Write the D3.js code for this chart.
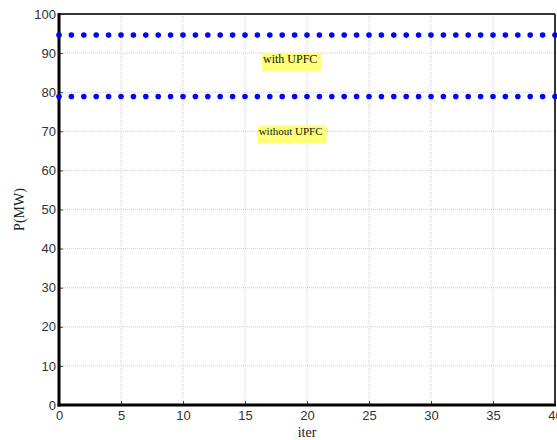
<!DOCTYPE html>
<html>
<head>
<meta charset="utf-8">
<script src="https://cdn.jsdelivr.net/npm/d3@7"></script>
<style>
  html, body { margin: 0; padding: 0; background: #fff; }
  svg { display: block; }
</style>
</head>
<body>
<svg id="chart" width="557" height="440"></svg>
<script>
// Power flow per iteration, with and without the UPFC device
const iterations = d3.range(0, 41);
const withUPFC = iterations.map(() => 94.6);
const withoutUPFC = iterations.map(() => 78.9);
const xTicks = [0, 5, 10, 15, 20, 25, 30, 35, 40];
const yTicks = [0, 10, 20, 30, 40, 50, 60, 70, 80, 90, 100];
const seriesLabels = [
  { text: "with UPFC", x: 16.45, y: 87.5, size: 12 },
  { text: "without UPFC", x: 16.1, y: 69.0, size: 11 }
];

const margin = { left: 59, right: 2, top: 14, bottom: 35 };
const W = 557, H = 440;
const svg = d3.select("#chart");

const x = d3.scaleLinear().domain([0, 40]).range([margin.left, W - margin.right]);
const y = d3.scaleLinear().domain([0, 100]).range([H - margin.bottom, margin.top]);

// grid
const grid = svg.append("g");
grid.selectAll("line.gx").data(xTicks.slice(1, -1)).join("line")
  .attr("x1", d => x(d)).attr("x2", d => x(d))
  .attr("y1", y(0)).attr("y2", y(100))
  .attr("stroke", "#c4c4c4").attr("stroke-width", 0.8).attr("stroke-dasharray", "1,1");
grid.selectAll("line.gy").data(yTicks.slice(1, -1)).join("line")
  .attr("x1", x(0)).attr("x2", x(40))
  .attr("y1", d => y(d)).attr("y2", d => y(d))
  .attr("stroke", "#c4c4c4").attr("stroke-width", 0.8).attr("stroke-dasharray", "1,1");

// axes
const xAxis = d3.axisBottom(x).tickValues(xTicks).tickSize(-4).tickPadding(6);
const yAxis = d3.axisLeft(y).tickValues(yTicks).tickSize(-4).tickPadding(3);

const gx = svg.append("g").attr("transform", `translate(0,${y(0)})`).call(xAxis);
const gy = svg.append("g").attr("transform", `translate(${x(0)},0)`).call(yAxis);
[gx, gy].forEach(g => {
  g.select(".domain").remove();
  g.selectAll(".tick line").attr("stroke", "#444");
  g.selectAll(".tick text").attr("font-family", "Liberation Sans, Arial, sans-serif")
    .attr("font-size", 13).attr("fill", "#333");
});

// frame
svg.append("line").attr("x1", x(0)).attr("x2", x(40)).attr("y1", y(100)).attr("y2", y(100))
  .attr("stroke", "#333").attr("stroke-width", 2);
svg.append("line").attr("x1", x(40)).attr("x2", x(40)).attr("y1", y(100)).attr("y2", y(0))
  .attr("stroke", "#333").attr("stroke-width", 2);
svg.append("line").attr("x1", x(0)).attr("x2", x(0)).attr("y1", y(100) - 1).attr("y2", y(0) + 1.5)
  .attr("stroke", "#000").attr("stroke-width", 3);
svg.append("line").attr("x1", x(0) - 1.5).attr("x2", x(40) + 1).attr("y1", y(0)).attr("y2", y(0))
  .attr("stroke", "#000").attr("stroke-width", 3);

// series markers
[withUPFC, withoutUPFC].forEach(vals => {
  svg.append("g").selectAll("circle").data(vals).join("circle")
    .attr("cx", (d, i) => x(iterations[i]))
    .attr("cy", d => y(d))
    .attr("r", 2.8)
    .attr("fill", "#0000ff");
});

// highlighted series labels
seriesLabels.forEach(l => {
  const g = svg.append("g");
  const t = g.append("text")
    .attr("x", x(l.x)).attr("y", y(l.y))
    .attr("font-family", "Liberation Serif, Times New Roman, serif")
    .attr("font-size", l.size).attr("fill", "#111")
    .text(l.text);
  const bb = t.node().getBBox();
  g.insert("rect", "text")
    .attr("x", bb.x - 1).attr("y", y(l.y) - 10)
    .attr("width", bb.width + 5).attr("height", 18)
    .attr("fill", "#ffff78");
});

// axis titles
svg.append("text")
  .attr("x", x(20)).attr("y", 437)
  .attr("text-anchor", "middle")
  .attr("font-family", "Liberation Serif, Times New Roman, serif")
  .attr("font-size", 14).attr("fill", "#222")
  .text("iter");
svg.append("text")
  .attr("transform", `translate(24,${y(50)}) rotate(-90)`)
  .attr("text-anchor", "middle")
  .attr("font-family", "Liberation Serif, Times New Roman, serif")
  .attr("font-size", 14).attr("fill", "#222")
  .text("P(MW)");
</script>
</body>
</html>
